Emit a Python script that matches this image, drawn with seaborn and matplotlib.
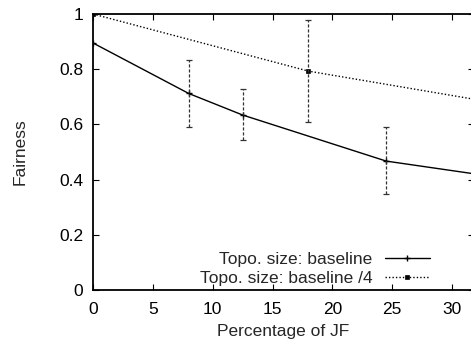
import numpy as np
import pandas as pd
import matplotlib
matplotlib.use("Agg")
import matplotlib.pyplot as plt
import seaborn as sns

# Data
x_base = [0, 8, 12.5, 24.5, 32]
y_base = [0.895, 0.712, 0.634, 0.467, 0.42]
lo_base = [np.nan, 0.590, 0.543, 0.348, np.nan]
hi_base = [np.nan, 0.833, 0.727, 0.589, np.nan]

x_q = [0, 18, 32]
y_q = [1.0, 0.793, 0.69]
lo_q = [np.nan, 0.607, np.nan]
hi_q = [np.nan, 0.980, np.nan]

label_base = "Topo. size: baseline"
label_q = "Topo. size: baseline /4"
x_ticks = [0, 5, 10, 15, 20, 25, 30]
y_ticks = [0, 0.2, 0.4, 0.6, 0.8, 1]
y_ticklabels = ["0", "0.2", "0.4", "0.6", "0.8", "1"]

sns.set_style("ticks")
plt.rcParams['font.family'] = ['Liberation Sans', 'DejaVu Sans']

FS = 12.5
W, H = 471, 343
fig = plt.figure(figsize=(W / 100, H / 100), dpi=100)
ax_left, ax_right, ax_top, ax_bot = 93, 474, 14, 290
ax = fig.add_axes([ax_left / W, (H - ax_bot) / H, (ax_right - ax_left) / W, (ax_bot - ax_top) / H])

df_b = pd.DataFrame({"x": x_base, "y": y_base})
df_q = pd.DataFrame({"x": x_q, "y": y_q})

sns.lineplot(data=df_b, x="x", y="y", ax=ax, color="black", linewidth=1.0,
             marker="+", markersize=5, markeredgewidth=1.0, markeredgecolor="black",
             label=label_base)
sns.lineplot(data=df_q, x="x", y="y", ax=ax, color="black", linewidth=1.0,
             linestyle=(0, (1, 1.5)), marker="s", markersize=3, markeredgewidth=0.5,
             markeredgecolor="black", label=label_q)

def draw_err(xs, ys, lo, hi):
    xs = np.array(xs, float); ys = np.array(ys, float)
    lo = np.array(lo, float); hi = np.array(hi, float)
    m = ~np.isnan(lo)
    yerr = np.vstack([ys[m] - lo[m], hi[m] - ys[m]])
    eb = ax.errorbar(xs[m], ys[m], yerr=yerr, fmt="none", ecolor="#333333",
                     elinewidth=0.9, capsize=2, capthick=0.9)
    for c in eb[2]:
        c.set_linestyle((0, (2.5, 1.5)))

draw_err(x_base, y_base, lo_base, hi_base)
draw_err(x_q, y_q, lo_q, hi_q)

ax.set_xlim(0, (ax_right - ax_left) / 11.97)
ax.set_ylim(0, 1)
ax.set_xticks(x_ticks)
ax.set_yticks(y_ticks)
ax.set_yticklabels(y_ticklabels)
ax.tick_params(direction="in", length=4, width=0.8, top=True, right=True,
               labelsize=FS, colors="black")
ax.tick_params(axis="x", pad=9)
ax.tick_params(axis="y", pad=7)
for s in ax.spines.values():
    s.set_linewidth(1.3)
    s.set_color("black")

ax.set_xlabel("Percentage of JF", fontsize=FS, labelpad=5)
ax.set_ylabel("Fairness", fontsize=FS, labelpad=23)

leg = ax.legend(loc="lower right", bbox_to_anchor=(430 / W, (H - 286) / H),
                bbox_transform=fig.transFigure, frameon=False, fontsize=FS,
                markerfirst=False, handlelength=2.6, handletextpad=0.7,
                labelspacing=0.2, borderpad=0, borderaxespad=0)

fig.savefig("out.png", dpi=100)
